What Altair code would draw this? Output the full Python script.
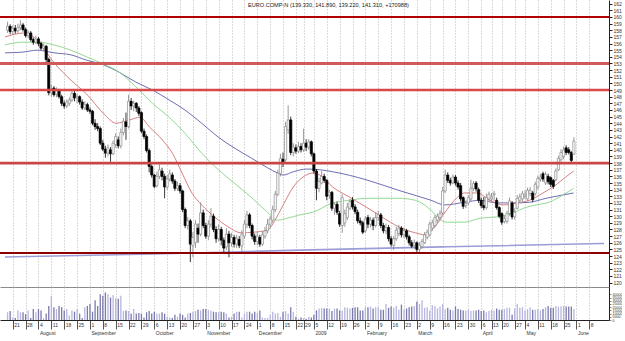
import json
import altair as alt
import pandas as pd

# ---------------- data ----------------
first_day = 3  # trading-day index of the first candle (index 0 = 14 Jul 2008)

open_ = [
    158.0, 158.6, 157.8, 158.3, 157.9, 158.4, 158.8, 158.1, 157.2, 157.6,
    156.6, 156.2, 156.7, 156.0, 155.3, 155.6, 153.6, 148.6, 149.3, 148.4,
    148.9, 148.0, 147.0, 146.6, 147.0, 147.5, 148.5, 147.8, 148.0, 147.2,
    146.3, 146.8, 146.0, 145.8, 144.0, 143.5, 143.2, 141.0, 140.1, 139.5,
    140.0, 139.4, 140.8, 141.5, 140.6, 142.6, 144.2, 143.5, 147.3, 146.6,
    147.0, 146.3, 145.6, 142.8, 142.0, 139.9, 137.5, 136.2, 134.6, 136.0,
    136.8, 136.0, 134.4, 135.6, 136.2, 135.3, 134.2, 134.6, 133.8, 131.0,
    128.6, 129.3, 125.6, 126.0, 128.2, 127.3, 130.5, 128.6, 127.0, 128.8,
    130.0, 128.0, 126.6, 128.0, 126.4, 125.4, 127.3, 126.0, 126.8, 125.8,
    126.5, 125.5, 127.0, 128.8, 130.2, 128.6, 127.0, 126.2, 126.8, 125.8,
    127.0, 127.8, 128.8, 129.4, 131.0, 133.3, 136.4, 138.6, 138.5, 143.0,
    144.5, 139.6, 140.3, 139.8, 140.5, 140.0, 141.0, 140.4, 141.2, 139.4,
    136.8, 134.2, 135.0, 136.0, 135.4, 133.2, 133.6, 131.2, 131.8, 130.4,
    128.6, 129.0, 129.8, 131.2, 132.4, 131.4, 130.6, 129.3, 129.0, 127.8,
    129.8, 128.8, 129.4, 128.6, 129.8, 130.2, 128.6, 127.8, 128.3, 126.6,
    125.6, 126.6, 127.4, 128.2, 127.2, 127.8, 126.9, 126.0, 125.6, 126.0,
    125.0, 125.4, 126.0, 126.8, 127.2, 128.2, 128.6, 129.4, 129.8, 130.5,
    133.8, 136.2, 135.4, 135.0, 135.9, 135.0, 134.6, 132.8, 131.6, 132.0,
    132.6, 134.2, 135.0, 134.0, 132.4, 131.6, 131.3, 132.6, 132.6, 133.2,
    132.4, 131.3, 130.4, 129.2, 129.2, 130.4, 132.0, 129.9, 131.2, 132.4,
    132.6, 133.0, 132.6, 133.4, 133.5, 133.4, 134.4, 135.6, 136.4, 135.0,
    136.0, 135.8, 135.4, 135.5, 137.0, 138.5, 139.0, 140.3, 140.0, 139.6,
    139.33,
]
high = [
    159.3, 158.9, 158.7, 158.8, 159.0, 159.5, 159.1, 158.4, 158.0, 157.9,
    156.9, 157.2, 157.0, 156.3, 156.0, 155.8, 153.9, 149.8, 149.6, 149.4,
    149.2, 148.3, 147.4, 147.6, 147.9, 148.9, 148.9, 148.4, 148.2, 147.6,
    147.3, 147.1, 146.4, 146.0, 144.6, 144.0, 143.5, 141.5, 140.6, 140.8,
    140.4, 141.4, 142.5, 142.0, 143.2, 144.8, 145.6, 148.3, 147.8, 147.4,
    147.2, 146.6, 145.8, 143.2, 142.3, 140.2, 137.8, 136.4, 136.7, 137.8,
    137.3, 136.4, 136.2, 137.0, 136.6, 135.6, 135.2, 135.0, 134.0, 131.3,
    129.9, 129.6, 127.6, 129.4, 128.9, 132.1, 131.0, 129.0, 129.4, 131.2,
    130.4, 128.5, 128.8, 128.4, 126.8, 128.2, 127.8, 127.5, 127.2, 127.2,
    127.0, 127.9, 129.4, 130.8, 130.5, 128.9, 127.4, 127.6, 127.2, 127.7,
    128.4, 129.6, 130.0, 131.6, 133.8, 137.0, 139.4, 139.6, 144.2, 146.7,
    145.0, 141.0, 140.8, 141.2, 141.0, 143.2, 141.6, 141.6, 141.4, 139.6,
    137.1, 135.8, 136.8, 136.4, 135.6, 134.0, 133.8, 132.0, 132.2, 130.8,
    133.3, 131.0, 132.0, 132.6, 132.9, 131.8, 131.0, 129.8, 129.3, 130.0,
    130.2, 129.9, 129.8, 130.6, 130.8, 130.5, 129.0, 128.9, 128.7, 127.0,
    127.0, 128.4, 128.7, 128.5, 128.3, 128.1, 127.2, 126.4, 126.5, 126.2,
    126.1, 126.6, 127.6, 128.0, 129.2, 129.5, 130.2, 130.4, 130.9, 134.4,
    137.0, 136.6, 135.8, 136.3, 136.2, 135.4, 135.0, 133.0, 132.4, 133.2,
    135.5, 135.3, 135.3, 134.3, 132.8, 132.9, 133.4, 133.7, 133.5, 133.8,
    132.8, 131.5, 130.6, 130.1, 130.8, 132.8, 132.3, 131.2, 133.2, 133.4,
    133.8, 133.9, 134.3, 134.4, 133.8, 135.2, 136.1, 136.4, 136.7, 136.7,
    136.4, 136.0, 135.6, 137.2, 139.1, 140.1, 140.5, 140.7, 140.4, 139.8,
    141.89,
]
low = [
    157.6, 157.4, 157.3, 157.5, 157.6, 158.0, 157.8, 156.9, 156.8, 156.3,
    155.8, 155.9, 155.6, 155.0, 154.8, 153.2, 148.2, 148.0, 148.0, 147.9,
    147.7, 146.6, 146.2, 146.3, 146.6, 147.2, 147.3, 147.0, 146.8, 146.0,
    146.0, 145.7, 145.4, 143.7, 143.0, 142.8, 140.7, 139.8, 138.8, 139.0,
    138.2, 139.2, 140.3, 140.2, 140.2, 142.2, 141.5, 143.2, 146.0, 145.8,
    145.7, 145.1, 142.5, 141.6, 139.6, 136.6, 135.8, 134.2, 134.3, 135.6,
    135.4, 132.7, 134.0, 135.2, 134.9, 133.8, 133.8, 133.4, 130.6, 128.2,
    128.0, 123.1, 123.8, 125.2, 126.0, 127.0, 128.2, 126.6, 126.4, 128.3,
    127.6, 126.0, 126.2, 125.6, 124.5, 124.9, 123.8, 125.4, 125.3, 125.2,
    125.2, 124.6, 126.6, 128.2, 128.2, 126.5, 125.7, 125.6, 125.4, 125.5,
    126.6, 127.4, 128.3, 129.0, 130.6, 133.0, 136.0, 137.4, 138.2, 142.4,
    139.2, 139.0, 139.4, 139.5, 139.6, 139.7, 139.8, 140.0, 139.0, 136.4,
    132.4, 133.6, 134.8, 135.0, 132.4, 132.6, 130.8, 130.2, 130.2, 128.4,
    127.5, 128.4, 129.4, 130.9, 131.0, 130.3, 128.9, 128.6, 127.3, 127.5,
    128.2, 128.3, 127.9, 128.3, 129.3, 128.2, 127.4, 127.3, 126.2, 125.4,
    124.9, 126.3, 127.0, 126.8, 126.7, 126.5, 125.6, 125.2, 125.1, 124.5,
    124.6, 125.1, 125.8, 126.5, 126.9, 127.8, 128.3, 129.0, 129.4, 130.2,
    133.5, 135.0, 134.6, 134.8, 134.6, 134.0, 132.2, 131.1, 131.2, 131.7,
    132.3, 133.8, 133.7, 132.0, 131.2, 130.9, 131.0, 132.2, 132.2, 132.3,
    131.0, 129.7, 128.7, 128.9, 128.9, 130.1, 129.5, 129.5, 131.0, 132.0,
    132.2, 132.6, 132.3, 133.0, 132.1, 133.1, 134.0, 135.2, 135.2, 134.7,
    134.8, 134.4, 134.1, 135.2, 136.8, 138.2, 138.6, 139.2, 139.3, 137.9,
    139.22,
]
close = [
    158.6, 157.8, 158.3, 157.9, 158.4, 158.8, 158.1, 157.2, 157.6, 156.6,
    156.2, 156.7, 156.0, 155.3, 155.6, 153.6, 148.6, 149.2, 148.3, 148.9,
    148.0, 147.0, 146.6, 147.2, 147.5, 148.5, 147.8, 148.0, 147.2, 146.3,
    146.8, 146.0, 145.8, 144.0, 143.5, 143.2, 141.0, 140.1, 139.5, 140.3,
    139.4, 141.0, 142.0, 140.6, 142.6, 144.3, 143.5, 147.3, 146.6, 147.0,
    146.3, 145.5, 142.8, 142.0, 139.9, 137.5, 136.2, 134.5, 136.0, 137.0,
    136.0, 134.4, 135.6, 136.4, 135.3, 134.2, 134.6, 133.8, 131.0, 128.6,
    129.3, 125.8, 126.8, 128.8, 127.3, 130.5, 128.6, 127.0, 128.8, 130.0,
    128.0, 126.6, 128.0, 126.4, 125.2, 127.3, 126.0, 126.8, 125.8, 126.6,
    125.6, 127.3, 128.8, 130.2, 128.6, 127.0, 126.2, 127.0, 125.8, 127.2,
    127.8, 128.8, 129.6, 131.0, 133.3, 136.5, 138.7, 138.2, 143.5, 144.5,
    139.6, 140.4, 139.8, 140.5, 140.0, 141.0, 140.4, 141.2, 139.4, 136.8,
    134.2, 135.2, 136.0, 135.4, 133.0, 133.6, 131.2, 131.8, 130.6, 128.8,
    132.8, 130.4, 131.4, 132.2, 131.4, 130.7, 129.3, 129.0, 127.6, 129.6,
    128.8, 129.4, 128.6, 129.8, 130.2, 128.6, 127.8, 128.3, 126.6, 125.8,
    126.6, 127.9, 128.2, 127.2, 127.8, 126.9, 126.0, 125.5, 126.0, 125.0,
    125.6, 126.2, 127.2, 127.6, 128.8, 129.0, 129.8, 130.0, 130.4, 133.8,
    136.2, 135.4, 135.0, 135.9, 135.0, 134.4, 132.6, 131.5, 131.9, 132.8,
    134.2, 134.9, 134.1, 132.4, 131.6, 131.3, 132.8, 133.3, 132.9, 133.4,
    131.3, 130.0, 129.1, 129.6, 130.4, 132.3, 129.9, 130.6, 132.7, 132.9,
    133.4, 133.2, 133.9, 133.9, 132.5, 134.8, 135.7, 135.9, 135.6, 136.3,
    135.2, 134.8, 134.5, 136.8, 138.7, 139.6, 140.0, 139.6, 139.6, 138.4,
    141.31,
]
volume_k = [
    12, 14, 4, 3, 15, 12, 12, 9, 15, 3,
    17, 12, 17, 15, 3, 10, 22, 37, 20, 17,
    22, 20, 15, 17, 7, 15, 13, 17, 10, 3,
    20, 22, 25, 13, 31, 22, 40, 38, 43, 40,
    35, 39, 34, 33, 38, 14, 15, 14, 10, 17,
    10, 11, 10, 4, 12, 14, 10, 13, 10, 10,
    12, 10, 5, 4, 3, 8, 5, 10, 8, 4,
    10, 11, 13, 14, 16, 15, 17, 17, 16, 15,
    13, 12, 12, 13, 12, 10, 4, 5, 10, 13,
    13, 4, 10, 13, 13, 10, 13, 11, 15, 4,
    3, 3, 8, 13, 10, 11, 5, 13, 14, 10,
    20, 13, 5, 2, 4, 3, 2, 5, 4, 8,
    15, 18, 19, 18, 18, 18, 14, 18, 18, 15,
    15, 20, 19, 18, 19, 20, 20, 15, 15, 20,
    20, 21, 18, 20, 20, 16, 16, 25, 19, 21,
    19, 22, 16, 24, 16, 18, 20, 21, 22, 29,
    25, 31, 19, 20, 15, 23, 22, 18, 21, 25,
    17, 19, 16, 15, 21, 17, 16, 15, 15, 16,
    14, 15, 15, 16, 14, 15, 12, 14, 16, 15,
    18, 16, 16, 17, 19, 19, 8, 18, 25, 19,
    20, 15, 17, 20, 16, 16, 17, 15, 17, 20,
    22, 19, 19, 22, 21, 21, 22, 21, 21, 21,
    17,
]

# moving averages (trading-day index, price)
red_i = [2.0, 9.7, 14.6, 21.1, 27.6, 33.7, 40.2, 45.2, 47.9, 50.5, 54.4, 58.2, 63.1,
         67.0, 70.8, 74.6, 78.4, 83.4, 88.7, 93.7, 98.7, 104.0, 106.3, 109.0, 111.7,
         114.0, 117.8, 121.6, 124.3, 129.3, 135.7, 142.2, 148.4, 154.9, 161.4, 165.2,
         169.0, 172.8, 176.6, 180.5, 185.4, 190.4, 195.7, 200.7, 205.7, 211.0, 216.0,
         219.8, 222.9]
red_p = [157.0, 157.6, 156.5, 153.1, 150.5, 148.4, 145.5, 144.0, 144.2, 144.5, 144.9,
         143.4, 141.5, 139.5, 136.5, 133.5, 131.7, 129.9, 128.4, 127.5, 127.6, 127.9,
         129.0, 130.9, 132.9, 134.4, 135.9, 136.5, 136.2, 134.4, 132.9, 131.4, 129.9,
         128.4, 127.5, 127.2, 128.4, 130.5, 132.4, 133.5, 133.5, 132.4, 131.7, 132.0,
         132.4, 133.5, 134.7, 135.9, 136.8]
green_i = [2.0, 8.5, 14.6, 21.1, 27.6, 33.7, 39.1, 46.7, 52.8, 59.3, 65.8, 71.9, 78.4,
           84.9, 91.0, 97.5, 104.0, 107.9, 111.7, 116.6, 121.6, 129.3, 135.7, 142.2,
           148.4, 154.9, 161.4, 167.5, 171.3, 174.0, 180.5, 186.6, 193.1, 199.6, 203.4,
           208.4, 213.3, 218.7, 222.9]
green_p = [155.8, 156.2, 156.2, 155.8, 155.0, 154.0, 153.1, 151.6, 149.5, 147.0, 144.9,
           142.5, 139.5, 137.0, 135.0, 132.9, 130.6, 129.4, 129.7, 130.2, 130.6, 132.0,
           132.4, 132.7, 132.7, 132.7, 132.4, 130.9, 129.4, 129.1, 129.1, 129.7, 129.9,
           130.5, 131.2, 131.7, 132.1, 133.2, 134.2]
blue_i = [2.0, 8.5, 14.6, 21.1, 27.6, 33.7, 40.2, 46.7, 52.8, 59.3, 65.8, 71.9, 78.4,
          84.9, 91.0, 97.5, 104.0, 107.9, 110.1, 114.0, 119.3, 124.3, 129.3, 142.2,
          154.9, 167.5, 172.8, 180.5, 186.6, 193.1, 199.6, 205.7, 212.2, 218.7, 222.9]
blue_p = [154.6, 154.7, 155.0, 154.6, 154.3, 153.5, 152.8, 151.6, 150.2, 149.0, 147.5,
          146.0, 144.0, 141.9, 140.3, 138.8, 137.3, 136.5, 136.2, 136.7, 137.1, 137.0,
          136.7, 135.5, 133.9, 132.4, 131.7, 132.1, 132.4, 132.0, 132.0, 132.1, 132.7,
          133.2, 133.5]
long_i = [2.0, 59.3, 116.6, 174.0, 234.7]
long_p = [123.85, 124.3, 124.9, 125.4, 125.9]

levels = [160.0, 153.0, 149.0, 138.0, 124.45]

tick_idx = [5, 10, 15, 20, 25, 30, 35, 40, 45, 50, 55, 60, 65, 70, 75, 80, 85, 90, 95,
            100, 105, 110, 115, 118, 122, 127, 132, 137, 142, 147, 152, 157, 162, 167,
            172, 177, 182, 187, 191, 195, 200, 204, 209, 214, 219, 224, 229]
tick_day = ['21', '28', '4', '11', '18', '25', '1', '8', '15', '22', '29', '6', '13',
            '20', '27', '3', '10', '17', '24', '1', '8', '15', '22', '29', '5', '12',
            '19', '26', '2', '9', '16', '23', '2', '9', '16', '23', '30', '6', '13',
            '20', '27', '4', '11', '18', '25', '1', '8']
tick_month = {15: 'August', 35: 'September', 60: 'October', 80: 'November',
              100: 'December', 122: '2009', 142: 'February', 162: 'March',
              187: 'April', 204: 'May', 224: 'June'}

vol_ticks = [0, 5000, 10000, 15000, 20000, 25000, 30000, 35000, 40000]

title_text = 'EURO.COMP-N (139.330, 141.890, 139.220, 141.310, +170988)'

# ---------------- chart ----------------
FONT = 'Liberation Sans'
df = pd.DataFrame({
    'i': list(range(first_day, first_day + len(close))),
    'o': open_, 'h': high, 'l': low, 'c': close,
    'v': [k * 1000 for k in volume_k],
})

xs = alt.Scale(domain=[2, 234.7], nice=False, zero=False)
ys = alt.Scale(domain=[119.34, 162.56], nice=False, zero=False)

main_x_axis = alt.Axis(values=tick_idx, labels=False, ticks=False, grid=True,
                       gridDash=[1, 2], gridColor='#b4b4b4', gridWidth=1,
                       domain=True, domainColor='#8a8a8a', title=None)
price_axis = alt.Axis(orient='right', values=list(range(120, 163)), labelFontSize=5,
                      labelFont=FONT, labelColor='#333', tickSize=3, tickColor='#222',
                      labelPadding=1, domainColor='#222', grid=False, title=None,
                      labelOverlap=False, labelFlush=False, labelBound=False)


def X(field='i'):
    return alt.X(f'{field}:Q', scale=xs, axis=main_x_axis)


def Y(field):
    return alt.Y(f'{field}:Q', scale=ys, axis=price_axis)


up = 'datum.c >= datum.o'
base = alt.Chart(df)
wick = base.mark_rule(strokeWidth=0.9, clip=True).encode(
    x=X(), y=Y('l'), y2='h:Q',
    color=alt.condition(up, alt.value('#8c8c8c'), alt.value('#222222')))
body = base.mark_bar(size=2.2, strokeWidth=0.7, clip=True).encode(
    x=X(), y=Y('o'), y2='c:Q',
    fill=alt.condition(up, alt.value('#ffffff'), alt.value('#000000')),
    stroke=alt.condition(up, alt.value('#8c8c8c'), alt.value('#000000')))


def ma(ii, pp, color, width):
    d = pd.DataFrame({'i': ii, 'p': pp})
    return alt.Chart(d).mark_line(color=color, strokeWidth=width,
                                  interpolate='monotone', clip=True).encode(
        x=X(), y=Y('p'))


lines = [
    ma(long_i, long_p, '#9c9cd8', 1.6),
    ma(blue_i, blue_p, '#5c5cac', 0.9),
    ma(green_i, green_p, '#86d486', 0.9),
    ma(red_i, red_p, '#d27070', 0.9),
]

level_styles = [('#b00000', 1.8), ('#d05a5a', 3.0), ('#d84a4a', 2.6),
                ('#c84646', 2.8), ('#8e0000', 2.0)]
rules = []
for lv, (col, w) in zip(levels, level_styles):
    rules.append(alt.Chart(pd.DataFrame({'p': [lv]})).mark_rule(
        color=col, strokeWidth=w, clip=True).encode(
        y=Y('p'), x=alt.value(0), x2=alt.value(609)))

title = alt.Chart(pd.DataFrame({'t': [title_text]})).mark_text(
    align='left', baseline='middle', fontSize=5.6, font=FONT, color='#222').encode(
    x=alt.value(248), y=alt.value(5), text='t:N')

price = alt.layer(*lines, wick, body, *rules, title).properties(width=609, height=287)

labels = [[d, tick_month[t]] if t in tick_month else d for t, d in zip(tick_idx, tick_day)]
label_expr = f"{json.dumps(labels)}[indexof({json.dumps(tick_idx)}, datum.value)]"

vol = alt.Chart(df).mark_bar(size=1.3, clip=True).encode(
    x=alt.X('i:Q', scale=xs, axis=alt.Axis(
        values=tick_idx, labelExpr=label_expr, grid=True, gridDash=[1, 2],
        gridColor='#b4b4b4', tickSize=9, tickColor='#555', domainColor='#222',
        labelAlign='left', labelBaseline='top', labelFontSize=5, labelFont=FONT,
        labelColor='#333', labelPadding=-7, labelOffset=1, labelLineHeight=8.5,
        labelOverlap=False, labelFlush=False, labelBound=False, title=None)),
    y=alt.Y('v:Q', scale=alt.Scale(domain=[0, 51500], nice=False), axis=alt.Axis(
        orient='right', values=vol_ticks,
        labelFontSize=3.6, labelFont=FONT, labelColor='#333', tickSize=2,
        labelPadding=1, domainColor='#222', grid=False, title=None, format='d',
        labelOverlap=False, labelFlush=False, labelBound=False)),
    color=alt.condition(up, alt.value('#b6b6e0'), alt.value('#7a7aac')),
).properties(width=609, height=33)

chart = alt.vconcat(price, vol, spacing=0).properties(
    padding=0, background='white'
).configure_view(stroke=None)

chart.save('out.html', embed_options={'renderer': 'svg', 'actions': False})
